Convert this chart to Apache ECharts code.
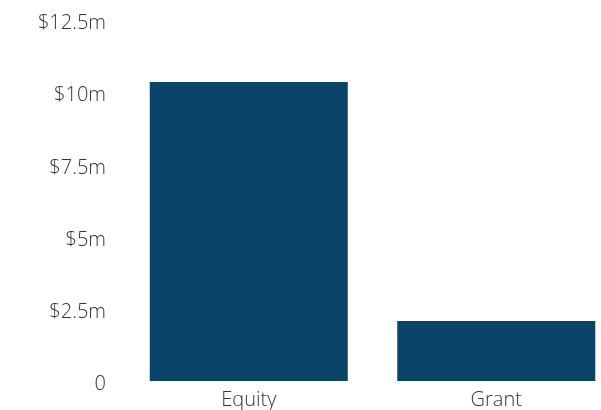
<!DOCTYPE html>
<html><head><meta charset="utf-8">
<script src="https://cdn.jsdelivr.net/npm/echarts@6/dist/echarts.min.js"></script>
<style>html,body{margin:0;padding:0;background:#fff}#c{width:601px;height:410px}</style>
</head><body><div id="c"></div>
<script>
const categories = ["Equity", "Grant"];
const values = [10.35, 2.08];
const yTicks = [0, 2.5, 5, 7.5, 10, 12.5];

const chart = echarts.init(document.getElementById('c'), null, {renderer: 'canvas'});
chart.setOption({
  animation: false,
  grid: {left: 125, width: 495, top: 20, height: 361, outerBoundsMode: 'none', containLabel: false},
  xAxis: {
    type: 'category', data: categories,
    axisLine: {show: false}, axisTick: {show: false},
    axisLabel: {color: '#333', fontFamily: 'Open Sans', fontSize: 20, fontWeight: 300, margin: 9}
  },
  yAxis: {
    type: 'value', min: yTicks[0], max: yTicks[yTicks.length - 1], interval: 2.5,
    splitLine: {show: false}, axisLine: {show: false}, axisTick: {show: false},
    axisLabel: {color: '#333', fontFamily: 'Open Sans', fontSize: 20, fontWeight: 300, margin: 19,
      verticalAlign: 'top', lineHeight: 7,
      formatter: v => v === 0 ? '0' : '$' + v + 'm'}
  },
  series: [{type: 'bar', data: values, barCategoryGap: '20%', itemStyle: {color: '#0a4569'}}]
});
</script></body></html>
